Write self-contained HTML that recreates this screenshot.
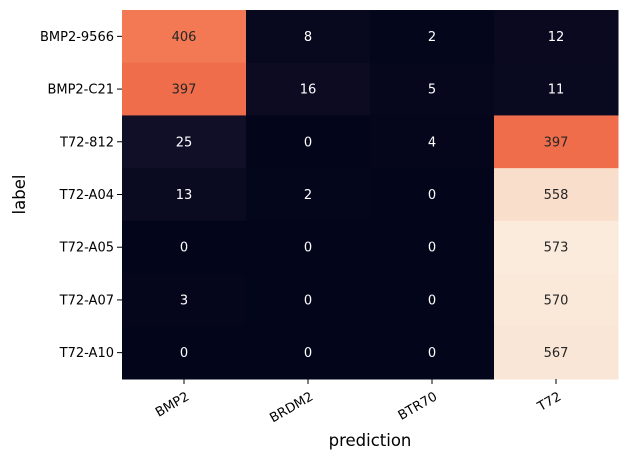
<!DOCTYPE html>
<html><head><meta charset="utf-8"><style>
body{margin:0;background:#fff;font-family:"Liberation Sans","DejaVu Sans",sans-serif}
</style></head><body>
<svg id="chart" width="628" height="460" xmlns="http://www.w3.org/2000/svg" font-family="DejaVu Sans, Liberation Sans, sans-serif"></svg>
<script>
const rowLabels=["BMP2-9566","BMP2-C21","T72-812","T72-A04","T72-A05","T72-A07","T72-A10"];
const colLabels=["BMP2","BRDM2","BTR70","T72"];
const r0=[406,8,2,12];
const r1=[397,16,5,11];
const r2=[25,0,4,397];
const r3=[13,2,0,558];
const r4=[0,0,0,573];
const r5=[3,0,0,570];
const r6=[0,0,0,567];
const values=[r0,r1,r2,r3,r4,r5,r6];
const svg=document.getElementById('chart');
const NS="http://www.w3.org/2000/svg";
const L=122,T=10,W=496,H=369;
const cw=W/colLabels.length,rh=H/rowLabels.length;
const xs=j=>L+j*cw, ys=i=>T+i*rh;
const vmax=Math.max(...values.flat()),vmin=Math.min(...values.flat());
const stops=[[0,"#03051a"],[0.125,"#2c1e3e"],[0.25,"#6f1f57"],[0.375,"#a3195b"],[0.5,"#d92847"],[0.62,"#ec4f3e"],[0.69,"#ef6b4a"],[0.71,"#f37a55"],[0.78,"#f5a07c"],[0.875,"#f6c5a8"],[0.97,"#f9dcc8"],[1,"#faebdd"]];
function hex(h){return [1,3,5].map(k=>parseInt(h.substr(k,2),16));}
function cmap(t){for(let k=1;k<stops.length;k++){if(t<=stops[k][0]){const a=stops[k-1],b=stops[k];const f=(t-a[0])/(b[0]-a[0]);const ca=hex(a[1]),cb=hex(b[1]);const c=ca.map((v,i)=>Math.round(v+(cb[i]-v)*f));return {c:`rgb(${c.join(',')})`,lum:(0.299*c[0]+0.587*c[1]+0.114*c[2])/255};}}return {c:stops[stops.length-1][1],lum:0.9};}
function el(tag,attrs,parent){const e=document.createElementNS(NS,tag);for(const k in attrs)e.setAttribute(k,attrs[k]);(parent||svg).appendChild(e);return e;}
values.forEach((row,i)=>row.forEach((v,j)=>{
  const col=cmap((v-vmin)/(vmax-vmin));
  const r=el('rect',{x:xs(j),y:ys(i),width:cw+0.5,height:rh+0.5,fill:col.c});
  
  
  const t=el('text',{x:xs(j)+cw/2,y:ys(i)+rh/2+4.5,'text-anchor':'middle','font-size':13,fill:col.lum>0.55?'#262626':'#ffffff'});
  t.textContent=v;
  
  
}));
rowLabels.forEach((lab,i)=>{
  const y=ys(i)+rh/2;
  el('line',{x1:L-5,x2:L,y1:y,y2:y,stroke:'#000','stroke-width':1});
  const t=el('text',{x:L-8,y:y+4.5,'text-anchor':'end','font-size':13,fill:'#000'});
  t.textContent=lab;
  
  
});
colLabels.forEach((lab,j)=>{
  const x=xs(j)+cw/2;
  el('line',{x1:x,x2:x,y1:T+H,y2:T+H+5,stroke:'#000','stroke-width':1});
  const t=el('text',{x:x+6,y:T+H+20,'text-anchor':'end','font-size':13,fill:'#000',transform:`rotate(-30 ${x+6} ${T+H+20})`});
  t.textContent=lab;
  
  
});
const xl=el('text',{x:L+W/2,y:446,'text-anchor':'middle','font-size':16.5,fill:'#000'});
xl.textContent='prediction';


const yl=el('text',{x:25,y:T+H/2,'text-anchor':'middle','font-size':16.5,fill:'#000',transform:`rotate(-90 25 ${T+H/2})`});
yl.textContent='label';


</script>
</body></html>
